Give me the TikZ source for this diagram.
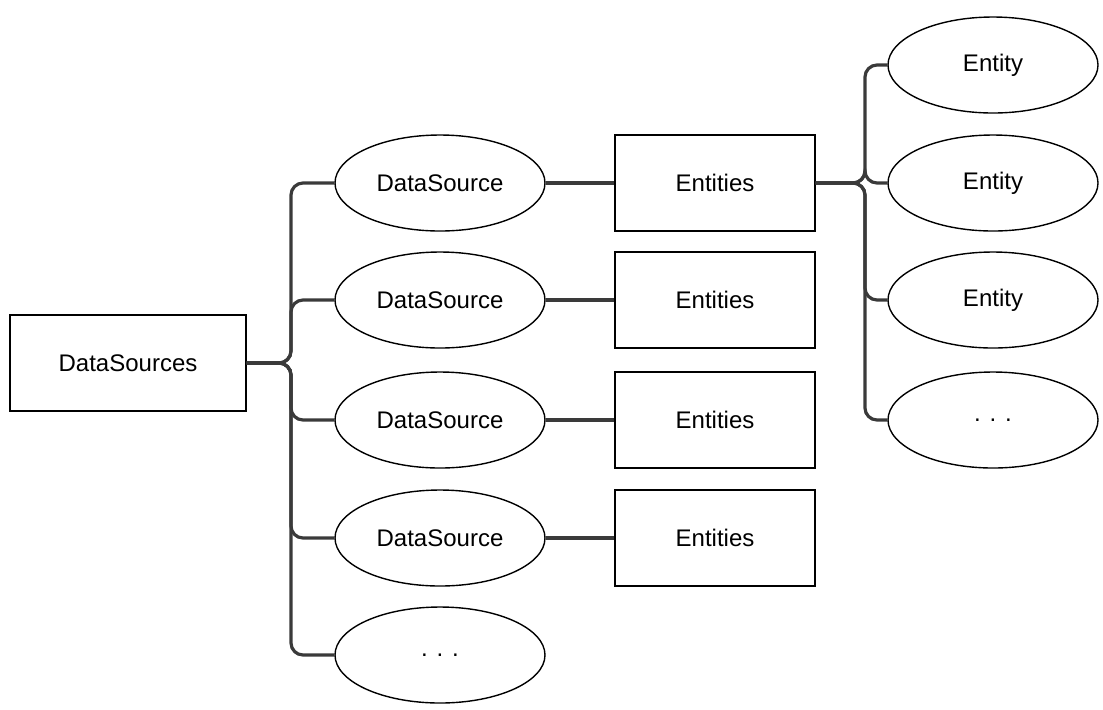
\documentclass[tikz,border=0pt]{standalone}
\usepackage{fontspec}
\setmainfont{Liberation Sans}
\usepackage{tikz}
\usetikzlibrary{shapes.geometric}

\definecolor{linkgray}{HTML}{3A3A3A}
\tikzset{
    boxnode/.style={draw, line width=0.7pt, minimum width=100pt, minimum height=48pt, inner sep=0pt},
    ovalnode/.style={ellipse, draw, line width=0.7pt, minimum width=105pt, minimum height=48pt, inner sep=0pt},
    link/.style={draw=linkgray, line width=1.6pt, rounded corners=6pt},
}

\begin{document}
\begin{tikzpicture}[x=0.5pt, y=-0.5pt, font=\fontsize{12}{14}\selectfont]
            \useasboundingbox (0,0) rectangle (1103,709);
            % root and its sources
            \node[boxnode, minimum width=118pt] (root) at (128,363) {DataSources};
            \node[ovalnode] (ds1) at (440,183) {DataSource};
            \node[ovalnode] (ds2) at (440,300) {DataSource};
            \node[ovalnode] (ds3) at (440,420) {DataSource};
            \node[ovalnode] (ds4) at (440,538) {DataSource};
            \node[ovalnode] (ds5) at (440,655) {. . .};
            % entity lists
            \node[boxnode] (es1) at (715,183) {Entities};
            \node[boxnode] (es2) at (715,300) {Entities};
            \node[boxnode] (es3) at (715,420) {Entities};
            \node[boxnode] (es4) at (715,538) {Entities};
            % entities of the first list
            \node[ovalnode] (e1) at (993,65) {Entity};
            \node[ovalnode] (e2) at (993,183) {Entity};
            \node[ovalnode] (e3) at (993,300) {Entity};
            \node[ovalnode] (e4) at (993,420) {. . .};
            % brackets
            \foreach \n in {ds1,ds2,ds3,ds4,ds5}
                \draw[link] (root.east) -- (291,363) |- (\n.west);
            \foreach \i in {1,...,4}
                \draw[link] (es\i.west -| ds\i.east) -- (es\i.west);
            \foreach \n in {e1,e2,e3,e4}
                \draw[link] (es1.east) -- (865,183) |- (\n.west);
        \end{tikzpicture}
\end{document}
